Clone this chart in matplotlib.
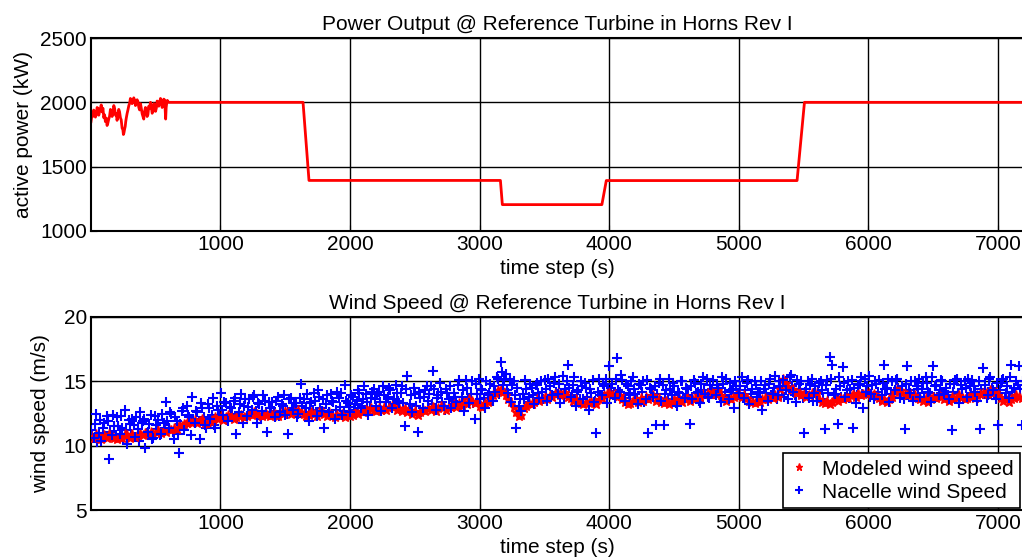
import numpy as np
import matplotlib
matplotlib.use("Agg")
import matplotlib.pyplot as plt

plt.rcParams['font.family'] = ['Liberation Sans', 'DejaVu Sans']

# --- power output, noisy start (s, kW) ---
t_pw = [1, 3, 9, 15, 22, 28, 35, 41, 48, 54,
        61, 67, 74, 80, 87, 93, 100, 106, 112, 119,
        125, 131, 138, 144, 151, 157, 164, 170, 177, 183,
        190, 196, 202, 208, 215, 221, 228, 234, 241, 247,
        251, 255, 260, 265, 269, 273, 280, 286, 293, 299,
        305, 311, 318, 324, 331, 337, 344, 350, 357, 363,
        370, 376, 383, 389, 396, 402, 408, 414, 421, 427,
        434, 440, 447, 453, 460, 466, 473, 479, 486, 492,
        499, 505, 511, 517, 524, 530, 537, 543, 550, 556,
        563, 569, 573, 577, 581, 585, 590, 595, 602, 610]
p_pw = [1850, 1864, 1905, 1890, 1940, 1928, 1885, 1903, 1960, 1954,
        1900, 1928, 1955, 1980, 1925, 1954, 1880, 1903, 1850, 1877,
        1820, 1838, 1870, 1890, 1945, 1928, 1890, 1915, 1975, 1954,
        1900, 1915, 1860, 1890, 1945, 1928, 1880, 1864, 1800, 1787,
        1750, 1762, 1790, 1813, 1850, 1877, 1915, 1941, 1975, 1992,
        2030, 2018, 1990, 2005, 2035, 2018, 1975, 1992, 2020, 2005,
        1960, 1941, 1990, 1954, 1910, 1890, 1870, 1928, 1960, 1941,
        1890, 1903, 1970, 1954, 2000, 1967, 1915, 1928, 1990, 1980,
        1930, 1954, 2010, 2005, 1970, 1992, 2030, 2018, 1960, 1980,
        2025, 2018, 1950, 1870, 1960, 1992, 2015, 2005, 2000, 2000]
# power output, curtailment steps
t_steps = [1637, 1683, 3160, 3175, 3943, 3977, 5449, 5506, 7200]
p_steps = [2000, 1393, 1393, 1205, 1205, 1392, 1392, 2000, 2000]

# --- wind speed, one value every 20 s (m/s) ---
t_ws = np.arange(0, 7200, 20) + 1
modeled = [
    10.8, 10.6, 10.9, 10.7, 10.5, 10.8, 10.6, 10.9, 10.7, 10.6,
    10.5, 10.7, 10.6, 10.9, 10.8, 10.6, 10.9, 10.7, 10.8, 11.0,
    10.8, 11.0, 10.9, 11.1, 10.9, 11.1, 11.2, 11.0, 11.2, 11.1,
    11.3, 11.2, 11.4, 11.3, 11.6, 11.5, 11.7, 11.8, 11.9, 11.8,
    12.0, 11.8, 11.9, 12.1, 11.8, 11.7, 11.9, 12.0, 12.2, 12.1,
    12.3, 12.0, 12.2, 12.4, 12.3, 12.1, 12.2, 12.3, 12.4, 12.2,
    12.3, 12.5, 12.4, 12.6, 12.5, 12.4, 12.3, 12.5, 12.4, 12.3,
    12.4, 12.5, 12.3, 12.6, 12.5, 12.7, 12.6, 12.5, 12.7, 12.6,
    12.8, 12.6, 12.5, 12.3, 12.4, 12.6, 12.5, 12.3, 12.6, 12.7,
    12.5, 12.3, 12.6, 12.4, 12.2, 12.4, 12.3, 12.5, 12.2, 12.4,
    12.3, 12.4, 12.6, 12.5, 12.7, 12.6, 12.8, 12.7, 12.9, 12.8,
    12.7, 12.9, 12.8, 13.0, 12.8, 12.9, 13.1, 13.0, 12.8, 12.9,
    12.7, 12.9, 12.6, 12.8, 12.5, 12.7, 12.4, 12.6, 12.8, 12.7,
    12.9, 12.8, 13.0, 12.7, 12.9, 13.1, 13.0, 12.8, 13.1, 13.0,
    13.2, 13.0, 13.3, 13.1, 13.4, 13.2, 13.6, 13.5, 13.3, 13.4,
    13.1, 13.0, 13.3, 13.4, 13.6, 13.9, 14.1, 14.3, 14.4, 14.2,
    13.9, 13.6, 13.4, 13.0, 12.6, 12.3, 12.4, 12.9, 13.1, 13.3,
    13.2, 13.4, 13.6, 13.5, 13.7, 13.8, 13.6, 13.9, 13.8, 14.0,
    14.1, 13.9, 14.0, 14.2, 13.8, 13.7, 13.5, 13.6, 13.4, 13.3,
    13.2, 13.4, 13.3, 13.5, 13.4, 13.2, 13.6, 13.7, 13.9, 14.0,
    14.1, 13.9, 14.0, 13.8, 13.9, 13.6, 13.4, 13.2, 13.3, 13.5,
    13.6, 13.4, 13.7, 13.5, 13.8, 13.6, 13.7, 13.9, 13.5, 13.7,
    13.4, 13.3, 13.5, 13.2, 13.4, 13.6, 13.5, 13.7, 13.4, 13.6,
    13.8, 13.5, 13.7, 13.6, 13.9, 13.8, 14.0, 13.9, 14.1, 14.0,
    14.2, 14.0, 14.3, 13.9, 13.6, 13.5, 13.7, 13.6, 13.8, 13.9,
    14.0, 13.8, 13.9, 13.7, 13.5, 13.4, 13.3, 13.5, 13.4, 13.6,
    13.7, 13.6, 13.8, 13.7, 13.9, 13.8, 14.4, 15.2, 14.9, 14.5,
    14.3, 14.4, 14.1, 14.2, 13.9, 14.0, 13.8, 13.9, 14.1, 14.0,
    14.1, 13.6, 13.4, 13.3, 13.5, 13.2, 13.4, 13.6, 13.5, 13.7,
    13.6, 13.8, 13.7, 13.9, 14.0, 13.8, 14.1, 13.9, 14.0, 14.2,
    14.1, 13.9, 14.0, 13.8, 13.7, 13.5, 13.6, 13.4, 13.6, 13.8,
    14.2, 14.4, 14.3, 14.1, 14.0, 13.9, 14.1, 13.8, 13.9, 13.7,
    13.6, 13.5, 13.7, 13.4, 13.6, 13.8, 13.7, 13.9, 13.8, 13.6,
    13.7, 13.5, 13.8, 13.6, 13.7, 13.9, 13.8, 13.6, 13.7, 13.9,
    13.8, 13.7, 13.9, 14.0, 14.1, 14.2, 14.0, 14.3, 14.1, 14.2,
    13.9, 13.7, 13.5, 13.6, 13.4, 13.6, 13.7, 13.9, 13.8, 13.7]
nacelle = [
    11.2, 10.6, 12.5, 11.0, 10.4, 11.8, 12.3, 9.0, 10.8, 11.5,
    12.2, 10.9, 11.4, 12.8, 10.1, 11.7, 12.1, 10.7, 11.3, 12.6,
    11.9, 9.8, 11.1, 12.4, 10.6, 11.6, 12.0, 10.9, 11.8, 13.4,
    11.4, 12.5, 10.5, 11.9, 9.4, 12.7, 11.2, 13.1, 12.2, 13.8,
    11.8, 12.6, 10.5, 12.9, 11.6, 13.2, 12.1, 13.7, 11.4, 12.8,
    14.1, 12.4, 13.3, 11.9, 12.9, 13.5, 10.9, 12.6, 14.0, 13.1,
    12.3, 13.6, 12.8, 13.9, 11.8, 13.2, 12.7, 13.5, 11.1, 12.9,
    13.4, 12.2, 13.8, 12.6, 13.1, 12.4, 10.9, 13.7, 12.8, 13.3,
    12.5, 14.8, 13.6, 12.9, 11.9, 13.4, 14.1, 12.3, 13.8, 12.7,
    11.4, 13.9, 12.6, 13.5, 12.1, 14.2, 13.0, 12.4, 14.7, 13.3,
    12.6, 13.8, 13.2, 14.3, 12.9, 13.6, 14.0, 12.4, 13.7, 14.4,
    13.1, 14.2, 12.7, 13.9, 13.4, 14.5, 12.9, 13.6, 14.1, 13.3,
    14.6, 11.5, 15.4, 13.2, 12.6, 14.0, 11.1, 13.7, 12.9, 14.3,
    13.5, 14.6, 15.8, 12.8, 13.9, 14.2, 13.1, 14.4, 13.6, 12.9,
    14.1, 13.4, 15.1, 13.8, 12.7, 14.5, 13.3, 15.0, 12.1, 14.0,
    13.6, 14.3, 12.9, 13.9, 14.8, 13.5, 14.2, 15.2, 16.5, 14.7,
    15.6, 14.1, 13.4, 15.0, 11.4, 13.1, 12.7, 13.6, 14.4, 13.8,
    14.5, 13.2, 14.9, 13.7, 14.2, 15.1, 13.5, 14.6, 13.9, 15.3,
    14.0, 13.3, 15.4, 14.4, 16.3, 13.8, 14.7, 13.1, 14.3, 15.0,
    13.6, 14.5, 12.8, 14.1, 13.4, 11.0, 15.2, 13.9, 14.6, 13.3,
    16.2, 14.8, 13.7, 16.8, 14.2, 15.1, 13.5, 14.6, 13.9, 15.3,
    14.0, 13.2, 14.7, 15.0, 13.6, 11.0, 14.4, 13.8, 11.6, 14.9,
    13.5, 11.6, 14.3, 15.2, 13.9, 14.6, 13.1, 14.1, 15.0, 13.7,
    14.4, 11.7, 13.6, 14.9, 14.2, 13.3, 15.3, 14.0, 13.8, 14.7,
    15.1, 13.9, 14.5, 13.4, 14.8, 15.2, 13.6, 14.3, 12.9, 14.6,
    14.1, 15.3, 13.7, 14.9, 13.2, 14.4, 15.0, 13.8, 14.2, 12.8,
    14.7, 13.5, 15.2, 14.0, 15.4, 13.9, 14.6, 15.1, 14.3, 13.6,
    15.5, 14.2, 13.4, 14.8, 15.0, 11.0, 14.4, 13.7, 15.2, 14.1,
    13.5, 14.9, 14.3, 11.3, 15.1, 16.9, 16.3, 14.0, 11.7, 14.6,
    16.1, 13.8, 15.0, 14.4, 11.4, 13.3, 14.7, 15.3, 12.9, 14.2,
    15.4, 14.0, 13.6, 14.8, 15.1, 13.9, 16.3, 14.5, 13.4, 15.0,
    14.3, 15.2, 13.7, 14.6, 11.3, 16.2, 14.1, 13.5, 15.0, 14.4,
    13.8, 14.9, 15.3, 14.2, 13.4, 16.2, 14.7, 13.9, 15.1, 14.0,
    14.5, 13.6, 11.2, 14.8, 15.2, 13.3, 14.4, 15.0, 13.8, 14.6,
    15.1, 14.2, 13.5, 11.3, 16.0, 14.7, 13.9, 15.3, 14.3, 13.6,
    11.6, 14.9, 15.2, 14.1, 13.7, 16.3, 14.5, 15.0, 16.2, 11.6]
# nacelle readings taken half way between the ones above (t + 10 s)
t_ws_b = t_ws + 10
nacelle_b = [
    10.9, 11.7, 10.3, 12.0, 11.4, 10.7, 11.9, 11.1, 12.4, 10.8,
    11.5, 12.3, 10.6, 11.2, 12.0, 10.9, 11.6, 12.2, 10.4, 11.8,
    12.1, 11.0, 11.7, 10.5, 12.3, 11.3, 10.8, 12.5, 11.4, 11.9,
    12.6, 11.1, 12.2, 10.9, 11.7, 12.9, 11.5, 12.4, 10.8, 12.1,
    12.7, 11.9, 13.3, 12.2, 11.4, 12.9, 12.4, 11.6, 13.1, 12.3,
    12.8, 13.4, 12.0, 13.0, 12.5, 13.7, 12.2, 13.2, 11.8, 13.6,
    13.0, 12.4, 13.8, 12.7, 13.3, 12.1, 13.9, 12.6, 13.4, 12.9,
    12.7, 13.5, 12.3, 13.2, 13.9, 12.5, 13.6, 12.9, 13.3, 12.2,
    13.7, 13.1, 12.6, 14.0, 13.3, 12.8, 13.5, 14.3, 12.9, 13.6,
    13.2, 12.5, 14.0, 13.4, 12.8, 13.7, 14.1, 12.7, 13.5, 13.0,
    13.9, 12.8, 13.5, 14.1, 13.1, 14.6, 13.4, 12.9, 14.2, 13.6,
    14.0, 13.4, 14.6, 12.9, 13.8, 14.3, 13.2, 14.7, 13.5, 14.1,
    13.3, 14.4, 12.8, 13.9, 14.5, 13.1, 14.2, 12.6, 13.8, 14.6,
    14.0, 13.2, 14.4, 13.7, 14.9, 13.4, 12.8, 14.1, 14.6, 13.5,
    13.8, 14.7, 13.1, 14.3, 15.1, 13.6, 14.0, 13.3, 14.8, 15.2,
    14.4, 13.7, 15.0, 14.1, 13.5, 14.6, 15.3, 14.0, 15.7, 15.1,
    14.3, 15.2, 14.7, 13.9, 14.5, 13.6, 14.0, 15.1, 13.4, 14.8,
    13.9, 14.7, 14.1, 15.0, 13.6, 14.4, 15.2, 13.8, 14.9, 14.2,
    14.8, 14.1, 13.7, 15.0, 14.5, 13.9, 15.3, 14.2, 13.6, 14.6,
    14.9, 13.8, 14.4, 15.1, 13.5, 14.2, 13.9, 14.8, 15.2, 14.1,
    14.5, 13.9, 15.2, 14.3, 15.5, 13.7, 14.8, 14.1, 15.0, 14.4,
    13.6, 14.8, 14.2, 13.4, 15.1, 14.5, 13.9, 14.6, 14.0, 15.2,
    14.7, 14.0, 13.6, 14.4, 14.9, 13.3, 14.2, 15.0, 13.8, 14.5,
    13.9, 14.6, 15.1, 14.1, 13.5, 14.8, 14.3, 15.2, 13.7, 14.4,
    14.0, 14.7, 13.8, 15.3, 14.2, 13.6, 14.9, 14.4, 15.0, 13.9,
    14.6, 13.7, 14.3, 15.1, 14.0, 13.5, 14.7, 14.2, 15.0, 14.4,
    14.1, 14.8, 13.9, 14.5, 13.6, 15.0, 14.3, 13.8, 14.9, 15.3,
    14.6, 13.9, 15.1, 14.4, 13.7, 14.2, 15.0, 14.8, 13.5, 14.6,
    14.2, 15.0, 13.6, 14.7, 14.1, 15.2, 13.9, 14.4, 15.3, 13.8,
    14.9, 14.3, 13.7, 15.1, 14.5, 13.9, 14.8, 14.0, 15.2, 14.6,
    13.8, 14.7, 15.0, 14.2, 13.6, 14.9, 14.4, 15.2, 14.0, 13.7,
    15.1, 14.5, 14.0, 13.6, 14.8, 14.3, 15.0, 13.9, 14.6, 15.2,
    14.4, 13.7, 14.9, 14.1, 15.3, 14.6, 13.8, 14.3, 15.0, 14.2,
    13.9, 14.8, 14.2, 15.1, 14.0, 14.7, 13.6, 14.5, 15.2, 14.1,
    14.6, 13.8, 15.0, 14.4, 14.1, 13.7, 15.2, 14.5, 14.0, 14.9,
    14.3, 15.1, 13.8, 14.6, 15.3, 14.2, 13.9, 14.7, 14.4, 15.0]

xticks = [1000, 2000, 3000, 4000, 5000, 6000, 7000]
fs = 15

fig = plt.figure(figsize=(10.22, 5.6), dpi=100)
W, H = 1022, 560
ax1 = fig.add_axes([91 / W, 1 - 231 / H, 933 / W, 193 / H])
ax2 = fig.add_axes([91 / W, 1 - 510 / H, 933 / W, 193 / H])

ax1.plot(t_pw + t_steps, p_pw + p_steps, color='#ff0000', lw=2.0)
ax1.set_ylim(1000, 2500)
ax1.set_yticks([1000, 1500, 2000, 2500])
ax1.set_title('Power Output @ Reference Turbine in Horns Rev I', fontsize=fs, pad=6)
ax1.set_xlabel('time step (s)', fontsize=fs)
ax1.set_ylabel('active power (kW)', fontsize=fs)
ax1.yaxis.set_label_coords(-0.062, 0.5)

ax2.plot(t_ws_b, nacelle_b, ls='none', marker='+', ms=7, mew=1.5, color='#0000ff',
         zorder=2)
ax2.plot(t_ws, modeled, ls='none', marker='*', ms=6.5, color='#ff0000',
         mec='#ff0000', label='Modeled wind speed', zorder=3)
ax2.plot(t_ws, nacelle, ls='none', marker='+', ms=7, mew=1.5, color='#0000ff',
         label='Nacelle wind Speed', zorder=4)
ax2.set_ylim(5, 20)
ax2.set_yticks([5, 10, 15, 20])
ax2.set_title('Wind Speed @ Reference Turbine in Horns Rev I', fontsize=fs, pad=6)
ax2.set_xlabel('time step (s)', fontsize=fs)
ax2.set_ylabel('wind speed (m/s)', fontsize=fs)
ax2.yaxis.set_label_coords(-0.044, 0.5)
leg = ax2.legend(loc='lower right', bbox_to_anchor=(1020 / W, 1 - 508 / H),
                 bbox_transform=fig.transFigure, borderaxespad=0, fontsize=fs,
                 fancybox=False, framealpha=1, edgecolor='black',
                 handlelength=1.0, handletextpad=0.6, labelspacing=0.2,
                 borderpad=0.3, markerscale=0.8)
leg.set_zorder(10)
leg.get_frame().set_linewidth(1.2)

for ax in (ax1, ax2):
    ax.set_xlim(1, 7200)
    ax.set_xticks(xticks)
    ax.grid(True, color='black', lw=1.0, ls='-')
    ax.set_axisbelow(True)
    ax.tick_params(direction='in', length=4, labelsize=fs, pad=3, color='black')
    ax.xaxis.set_label_coords(0.5, -0.195)
    ax.xaxis.label.set_va('center')
    for s in ax.spines.values():
        s.set_linewidth(1.5)
    ax.spines['right'].set_visible(False)

fig.savefig('out.png', dpi=100)
